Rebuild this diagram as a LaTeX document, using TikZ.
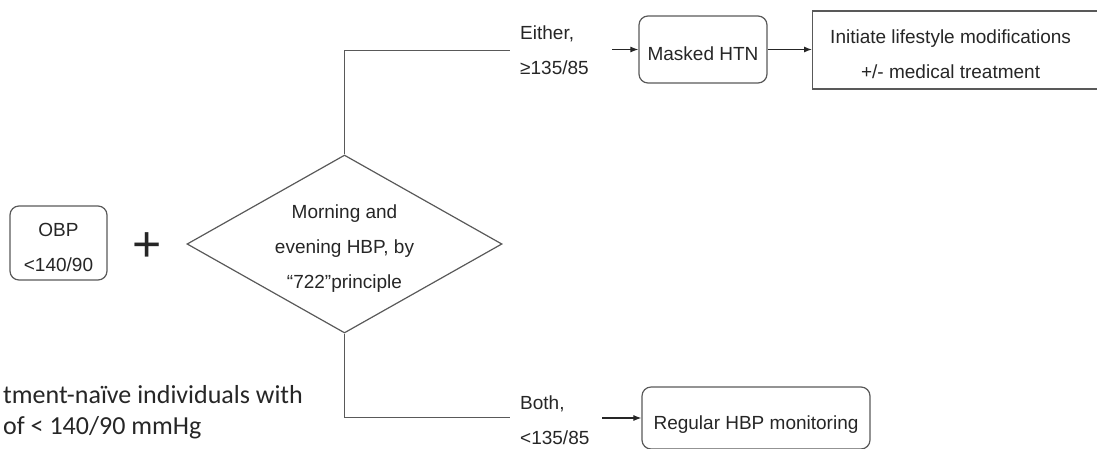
\documentclass[tikz,border=0pt]{standalone}
\usepackage{fontspec}
\setmainfont{Liberation Sans}
\newfontfamily\calfont{Carlito}
\usetikzlibrary{shapes.geometric,arrows.meta}
\begin{document}
\begin{tikzpicture}[x=1pt,y=-1pt,
  every node/.style={text=black!85},
  conn/.style={draw=black!65,line width=1.2pt},
  arr/.style={draw=black!85,line width=1.1pt,-{Latex[length=8pt,width=6pt]}},
  txt/.style={font=\fontsize{19}{35}\selectfont},
  rbox/.style={txt,draw=black!65,line width=1.2pt,rounded corners=9pt,inner sep=0pt,align=center},
  sbox/.style={txt,draw=black!65,line width=1.2pt,inner sep=0pt,align=center},
  dec/.style={txt,diamond,draw=black!65,line width=1.2pt,inner sep=0pt,align=center,aspect=1.77},
  lbl/.style={txt,align=left,inner ysep=0pt,inner xsep=10pt}
]
\clip (0,0) rectangle (1097,448);

\node[rbox,minimum width=97pt,minimum height=74pt] (obp) at (58.5,243) {\rule{0pt}{22pt}OBP\\<140/90};
\node[font=\fontsize{50}{50}\selectfont,inner sep=0pt] (plus) at (147.5,247.3) {+};
\node[dec,minimum width=315pt,minimum height=178pt] (hbp) at (344.5,244) {\rule{0pt}{22pt}Morning and\\evening HBP, by\\“722”principle};

\node[lbl,anchor=west] (either) at (510,50.5) {Either,\\≥135/85};
\node[lbl,anchor=west] (both) at (510,420.6) {Both,\\<135/85};

\node[rbox,minimum width=128pt,minimum height=67pt] (masked) at (703,49.5) {\rule{0pt}{22pt}Masked HTN};
\node[sbox,minimum width=300pt,minimum height=78pt,anchor=west] (life) at (812,50) {\rule{0pt}{22pt}Initiate lifestyle modifications\hspace*{24pt}\\+/- medical treatment\hspace*{24pt}};
\node[rbox,minimum width=228pt,minimum height=62pt] (reg) at (756,418) {\rule{0pt}{26pt}Regular HBP monitoring};

\node[font=\calfont\fontsize{26}{31.5}\selectfont,align=left,inner sep=0pt,anchor=north west] (note) at (3,385) {tment-naïve individuals with\\of < 140/90 mmHg};

\draw[conn] (hbp.north) |- (either.west);
\draw[conn] (hbp.south) |- ([yshift=3.3pt]both.west);
\draw[arr] ([xshift=-26pt]masked.west) -- (masked.west);
\draw[arr] (masked.east) -- (masked.east -| life.west);
\draw[arr] ([xshift=-39pt]reg.west) -- (reg.west);
\end{tikzpicture}
\end{document}
